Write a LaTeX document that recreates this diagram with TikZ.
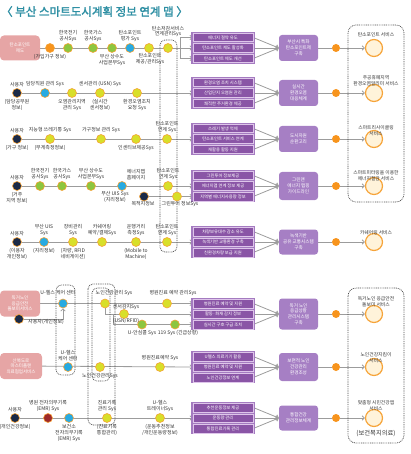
\documentclass[tikz,border=0pt]{standalone}
\usepackage{fontspec}
\setmainfont{Noto Sans CJK KR}[AutoFakeBold=2]
\usetikzlibrary{arrows.meta,positioning}
\definecolor{ttl}{HTML}{2E8FA3}
\definecolor{lncol}{HTML}{9C9C9C}
\definecolor{pinkc}{HTML}{E6A5A5}
\definecolor{stbg}{HTML}{A47BC0}
\definecolor{tbfill}{HTML}{8A55A6}
\definecolor{tbdraw}{HTML}{DEC5EA}
\definecolor{procc}{HTML}{A67FC4}
\definecolor{orng}{HTML}{F7941D}
\definecolor{grn}{HTML}{8DC63F}
\definecolor{yel}{HTML}{D8DF2A}
\definecolor{blu}{HTML}{27AAE1}
\definecolor{nav}{HTML}{1B2A47}
\definecolor{redb}{HTML}{9E2A2B}
\definecolor{dotb}{HTML}{F6A43A}
\definecolor{svcf}{HTML}{FFF3DA}
\definecolor{txt}{HTML}{333333}
\pgfdeclarelayer{bg}
\pgfsetlayers{bg,main}
\tikzset{
  ln/.style={draw=lncol, line width=0.8pt},
  >={Straight Barb[length=2.3pt,width=4.5pt]},
  dotn/.style={circle, minimum size=9pt, inner sep=0pt, draw=dotb, line width=0.6pt},
  lab/.style={font=\fontsize{5}{5.8}\selectfont, text=txt, align=center, inner sep=0pt},
  slab/.style={font=\fontsize{4.8}{5.8}\selectfont, text=txt, align=center, inner sep=0pt},
  pinkbox/.style={rounded corners=4pt, fill=pinkc, text=white, align=center, inner sep=1pt, font=\fontsize{4.5}{5.6}\selectfont},
  tbox/.style={fill=tbfill, draw=tbdraw, line width=0.5pt, minimum width=60pt, minimum height=8.5pt, inner sep=0pt, text=white, font=\fontsize{4.3}{5}\selectfont},
  proc/.style={fill=procc, rounded corners=3pt, minimum width=39pt, inner sep=1pt, text=white, align=center, font=\fontsize{4.6}{5.8}\selectfont},
  odot/.style={circle, fill=orng, minimum size=8pt, inner sep=0pt},
  svc/.style={circle, minimum size=17pt, inner sep=0pt, fill=svcf, draw=dotb, line width=1.2pt},
  dotbox/.style={draw=black!70, line width=0.7pt, dash pattern=on 0.9pt off 0.9pt, rounded corners=5pt},
}
\newcommand\bstack[5]{%
  \fill[stbg] (191,#2-16) rectangle (255,#2+16);
  \node[tbox] (#1a) at (223,#2-10.5) {#3};
  \node[tbox] (#1b) at (223,#2) {#4};
  \node[tbox] (#1c) at (223,#2+10.5) {#5};
}
\newcommand\bflow[4]{%
  \node[proc, minimum height=#4] (#1p) at (298.5,#2) {#3};
  \node[odot] (#1o) at (336,#2) {};
  \node[svc] (#1s) at (374,#2) {};
  \begin{pgfonlayer}{bg}
  \draw[ln,->] (#1a.east) -- (#1p.west);
  \draw[ln,->] (#1b.east) -- (#1p.west);
  \draw[ln,->] (#1c.east) -- (#1p.west);
  \draw[ln] (#1p.east) -- (#1o);
  \draw[ln,->] (#1o) -- (#1s);
  \end{pgfonlayer}
}
\begin{document}
\begin{tikzpicture}[x=1pt,y=-1pt]
\useasboundingbox (0,0) rectangle (410,454);
\node[anchor=west, text=ttl, font=\fontsize{11.5}{13}\selectfont\bfseries, inner sep=0pt] (title) at (1,11.5) {〈 부산 스마트도시계획 정보 연계 맵 〉};

% dotted boxes
\draw[dotbox, rounded corners=8pt] (348,25) rectangle (404,202);
\draw[dotbox, rounded corners=8pt] (348,288) rectangle (404,443);
\draw[dotbox] (160,40) rectangle (177,252);
\draw[dotbox] (56,285) rectangle (75,375);
\draw[dotbox] (92,288) rectangle (110,381);
\draw[dotbox] (88,284) rectangle (115,425);

% ===== Row 1 =====
\bstack{s1}{48}{에너지 절약 유도}{탄소포인트 제도 활성화}{탄소포인트 제도 개선}
\bflow{s1}{48}{부산시 특화\\탄소포인트제\\구축}{26pt}
\node[pinkbox, minimum width=40pt, minimum height=25pt] (p1) at (20,48) {탄소포인트\\제도};
\node[dotn, fill=orng] (a1) at (50,48) {};
\node[dotn, fill=grn] (a2) at (68,48) {};
\node[dotn, fill=grn] (a3) at (93,48) {};
\node[dotn, fill=grn] (a4) at (112,48) {};
\node[dotn, fill=blu] (a5) at (130,48) {};
\node[dotn, fill=yel] (a6) at (149,48) {};
\node[dotn, fill=yel] (a7) at (168,48) {};
\node[lab, below=1.5pt of a1] (a1t) {(가입가구 정보)};
\node[lab, above=1.5pt of a2] (a2t) {한국전기\\공사Sys};
\node[lab, above=1.5pt of a3] (a3t) {한국가스\\공사Sys};
\node[lab, below=1.5pt of a4] (a4t) {부산 상수도\\사업본부Sys};
\node[lab, above=1.5pt of a5] (a5t) {탄소포인트\\평가 Sys};
\node[lab] (a6t) at (150,59) {탄소포인트\\제공/관리Sys};
\node[lab, above=6pt of a7] (a7t) {탄소저감서비스\\연계관리Sys};
\coordinate (j1) at (180,48);
\begin{pgfonlayer}{bg}
\draw[ln,->] (p1) -- (s1b.west);
\draw[ln,->] (j1) |- (s1a.west);
\draw[ln,->] (j1) |- (s1c.west);
\end{pgfonlayer}
\node[slab] (t1) at (376,35) {탄소포인트 서비스};

% ===== Row 2 =====
\bstack{s2}{93}{환경오염 조치 시스템}{산업단지 오염원 관리}{쾌적한 주거환경 제공}
\bflow{s2}{93}{실시간\\환경오염\\대응체계}{26pt}
\node[dotn, fill=nav] (n2) at (17,93) {};
\node[dotn, fill=blu] (b2) at (45,93) {};
\node[dotn, fill=yel] (c2) at (72,93) {};
\node[dotn, fill=yel] (d2) at (100,93) {};
\node[dotn, fill=yel] (e2) at (137,93) {};
\node[lab, above=1.5pt of n2] (n2t) {사용자};
\node[lab, below=1.5pt of n2] (n2u) {(담당공무원\\정보)};
\node[lab, above=1.5pt of b2] (b2t) {담당직원 관리 Sys};
\node[lab, below=1.5pt of c2] (c2t) {오염관리지역\\관리 Sys};
\node[lab, above=1.5pt of d2] (d2t) {센서관리 (USN) Sys};
\node[lab, below=1.5pt of d2] (d2u) {(실시간\\센서정보)};
\node[lab, below=1.5pt of e2] (e2t) {환경오염조치\\요청 Sys};
\begin{pgfonlayer}{bg}
\draw[ln,->] (n2) -- (s2b.west);
\end{pgfonlayer}
\node[slab] (t2) at (376,81) {주공휴폐지역\\환경오염알리미 서비스};

% ===== Row 3 =====
\bstack{s3}{139}{쓰레기 발생 억제}{탄소포인트 서비스 연계}{재활용 활동 지원}
\bflow{s3}{139}{도시자원\\순환고리}{26pt}
\node[dotn, fill=nav] (n3) at (17,139) {};
\node[dotn, fill=yel] (b3) at (50,139) {};
\node[dotn, fill=yel] (c3) at (101,139) {};
\node[dotn, fill=yel] (d3) at (136,139) {};
\node[dotn, fill=yel] (e3) at (167,139) {};
\node[lab, above=1.5pt of n3] (n3t) {사용자};
\node[lab, below=1.5pt of n3] (n3u) {(가구 정보)};
\node[lab, above=1.5pt of b3] (b3t) {지능형 쓰레기통 Sys};
\node[lab, below=1.5pt of b3] (b3u) {(무게측정정보)};
\node[lab, above=1.5pt of c3] (c3t) {가구정보 관리 Sys};
\node[lab, below=1.5pt of d3] (d3t) {인센티브제공Sys};
\node[lab, above=1.5pt of e3] (e3t) {탄소포인트\\연계 Sys};
\begin{pgfonlayer}{bg}
\draw[ln,->] (n3) -- (s3b.west);
\end{pgfonlayer}
\node[slab] (t3) at (376,131) {스마트리사이클링\\서비스};

% ===== Row 4 =====
\bstack{s4}{186}{그린투어 정보제공}{에너지맵 연계 정보 제공}{지역별 에너지사용량 정보}
\bflow{s4}{186}{그린맨\\에너지 맵핑\\가이드라인}{28pt}
\node[dotn, fill=nav] (n4) at (17,186) {};
\node[dotn, fill=grn] (b4) at (40,186) {};
\node[dotn, fill=grn] (c4) at (62,186) {};
\node[dotn, fill=grn] (d4) at (91,186) {};
\node[dotn, fill=blu] (e4) at (122,186) {};
\node[dotn, fill=yel] (f4) at (168,186) {};
\node[dotn, fill=nav] (q4) at (144,196.5) {};
\node[dotn, fill=yel] (g4) at (177,196.5) {};
\node[lab, above=1.5pt of n4] (n4t) {사용자};
\node[lab, below=1.5pt of n4] (n4u) {(거주\\지역 정보)};
\node[lab, above=1.5pt of b4] (b4t) {한국전기\\공사Sys};
\node[lab, above=1.5pt of c4] (c4t) {한국가스\\공사Sys};
\node[lab, above=1.5pt of d4] (d4t) {부산 상수도\\사업본부Sys};
\node[lab] (e4t) at (115,197) {부산 UIS Sys\\(지리정보)};
\node[lab] (e4u) at (136,175) {에너지맵\\홈페이지};
\node[lab, above=1.5pt of f4] (f4t) {탄소포인트\\연계 Sys};
\node[lab] (q4t) at (143,204) {목적지정보};
\node[lab] (g4t) at (180,204) {그린투어 정보Sys};
\begin{pgfonlayer}{bg}
\draw[ln,->] (n4) -- (s4b.west);
\draw[ln,->] (q4) -- (s4c.west);
\end{pgfonlayer}
\node[slab] (t4) at (376,176) {스마트미터링을 이용한\\에너지절감 서비스};

% ===== Row 5 =====
\bstack{s5}{242}{차량보유대수 감소 유도}{녹색기반 교통환경 구축}{친환경차량 보급 지원}
\bflow{s5}{242}{녹색기반\\공유 교통시스템\\구축}{25pt}
\node[dotn, fill=nav] (n5) at (17,242) {};
\node[dotn, fill=blu] (b5) at (44,242) {};
\node[dotn, fill=yel] (c5) at (73,242) {};
\node[dotn, fill=yel] (d5) at (102,242) {};
\node[dotn, fill=yel] (e5) at (136,242) {};
\node[dotn, fill=yel] (f5) at (167,242) {};
\node[lab, above=1.5pt of n5] (n5t) {사용자};
\node[lab, below=1.5pt of n5] (n5u) {(이용자\\개인정보)};
\node[lab, above=1.5pt of b5] (b5t) {부산 UIS\\Sys};
\node[lab, below=1.5pt of b5] (b5u) {(지리정보)};
\node[lab, above=1.5pt of c5] (c5t) {장비관리\\Sys};
\node[lab, below=1.5pt of c5] (c5u) {(차량, RFID\\네비게이션)};
\node[lab, above=1.5pt of d5] (d5t) {카쉐어링\\예약/결제Sys};
\node[lab, above=1.5pt of e5] (e5t) {운행거리\\측정Sys};
\node[lab, below=1.5pt of e5] (e5u) {(Mobile to\\Machine)};
\node[lab, above=1.5pt of f5] (f5t) {탄소포인트\\연계 Sys};
\begin{pgfonlayer}{bg}
\draw[ln,->] (n5) -- (s5b.west);
\end{pgfonlayer}
\node[slab] (t5) at (376,233) {카쉐어링 서비스};

% ===== Row 6 =====
\bstack{s6}{314}{병원진료 예약 및 지원}{활동·화재 감지 정보}{실시간 구호 구급 조치}
\bflow{s6}{314}{독거 노인\\응급상황\\관리시스템\\구축}{31pt}
\node[pinkbox, minimum width=40pt, minimum height=26pt] (p6) at (20,303.5) {독거노인\\응급안전\\돌보미서비스};
\node[dotn, fill=blu] (u6) at (63,303.5) {};
\node[dotn, fill=nav] (n6) at (19,319) {};
\node[dotn, fill=yel] (y6) at (105,303.5) {};
\node[dotn, fill=yel] (h6) at (167,303.5) {};
\node[dotn, fill=yel] (c6) at (124,314) {};
\node[dotn, fill=grn] (g6) at (142,324.5) {};
\node[dotn, fill=grn] (k6) at (175,324.5) {};
\coordinate (m6) at (113,314);
\node[lab] (u6t) at (58,293) {U-헬스 케어 센터};
\node[lab] (n6t) at (46,322) {사용자(개인정보)};
\node[lab] (y6t) at (114,293) {노인건강관리 Sys};
\node[lab] (h6t) at (173,293) {병원진료 예약 관리Sys};
\node[lab] (c6t) at (126,307) {센서감지Sys};
\node[lab] (r6t) at (126,321) {(USN/RFID)};
\node[lab] (g6t) at (142,333) {U-안심콜 Sys};
\node[lab] (k6t) at (178,333) {119 Sys (긴급상황)};
\begin{pgfonlayer}{bg}
\draw[ln,->] (p6) -- (s6a.west);
\draw[ln,->] (n6) -| (u6);
\draw[ln,->] (y6) |- (s6b.west);
\draw[ln,->] (m6) |- (s6c.west);
\end{pgfonlayer}
\node[slab] (t6) at (376,302) {독거노인 응급안전\\돌보미 서비스};

% ===== Row 7 =====
\bstack{s7}{367}{U헬스 의료기기 활용}{병원진료 예약 및 지원}{노인건강정보 연계}
\bflow{s7}{367}{보편적 노인\\건강관리\\환경조성}{28pt}
\node[pinkbox, minimum width=42pt, minimum height=26pt] (p7) at (21,366) {산복도로\\마스터플랜\\의료협업서비스};
\node[dotn, fill=blu] (u7) at (68,367) {};
\node[dotn, fill=yel] (y7) at (100,367) {};
\node[dotn, fill=yel] (h7) at (160,367) {};
\node[lab, above=1.5pt of u7] (u7t) {U-헬스\\케어 센터};
\node[lab, below=1.5pt of y7] (y7t) {노인건강관리Sys};
\node[lab, above=1.5pt of h7] (h7t) {병원진료예약 Sys};
\begin{pgfonlayer}{bg}
\draw[ln,->] (p7) -- (s7b.west);
\end{pgfonlayer}
\node[slab] (t7) at (376,358) {노인건강지킴이\\서비스};

% ===== Row 8 =====
\bstack{s8}{418}{추천운동정보 제공}{운동량 관리}{통합진료기록 관리}
\bflow{s8}{418}{통합건강\\관리정보체계}{25pt}
\node[dotn, fill=nav] (n8) at (15,418) {};
\node[dotn, fill=redb] (r8) at (48,418) {};
\node[dotn, fill=blu] (b8) at (69,418) {};
\node[dotn, fill=yel] (y8) at (107,418) {};
\node[dotn, fill=yel] (v8) at (160,418) {};
\node[lab, above=1.5pt of n8] (n8t) {사용자};
\node[lab, below=1.5pt of n8] (n8u) {(개인건강정보)};
\node[lab, above=1.5pt of r8] (r8t) {병원 전자의무기록\\(EMR) Sys};
\node[lab, below=1.5pt of b8] (b8t) {보건소\\전자의무기록\\(EMR) Sys};
\node[lab, above=1.5pt of y8] (y8t) {진료기록\\관리 Sys};
\node[lab, below=1.5pt of y8] (y8u) {(진료기록\\통합관리)};
\node[lab, above=1.5pt of v8] (v8t) {U-헬스\\트레이너Sys};
\node[lab, below=1.5pt of v8] (v8u) {(운동추천정보\\/개인운동량정보)};
\begin{pgfonlayer}{bg}
\draw[ln,->] (n8) -- (s8b.west);
\end{pgfonlayer}
\node[slab] (t8) at (376,406) {맞춤형 시민건강앱\\서비스};
\node[lab, font=\fontsize{6.3}{7}\selectfont] (t9) at (376,434) {(보건복지의료)};
\end{tikzpicture}
\end{document}
